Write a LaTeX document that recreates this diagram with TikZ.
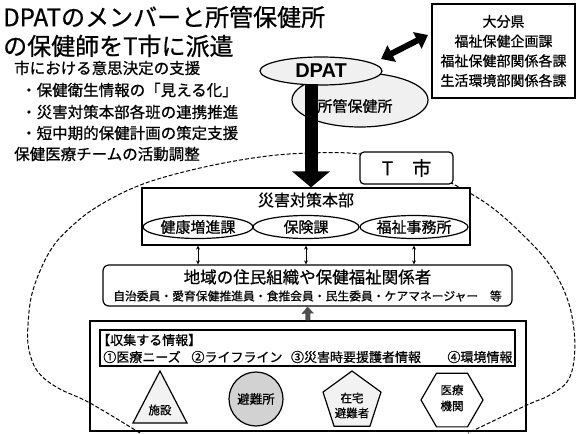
\documentclass[tikz,border=0pt]{standalone}
\usepackage{fontspec}
\setmainfont{Noto Sans CJK JP}[FakeBold=0.7]
\newfontfamily\lsans{Liberation Sans}
\usetikzlibrary{shapes.geometric, arrows.meta}
\newcommand{\myfs}[1]{\fontsize{#1pt}{#1pt}\selectfont}
\begin{document}
\begin{tikzpicture}[x=1pt, y=-1pt,
  box/.style={draw, line width=1.2pt, inner sep=0pt, fill=white},
  ell/.style={ellipse, draw, line width=1.2pt, inner sep=0pt, fill=white},
  txt/.style={inner sep=0pt},
  dashline/.style={draw, line width=1pt, dash pattern=on 4pt off 2pt},
  bigarrow/.style={line width=13pt, -{Triangle[width=37pt,length=16pt]}},
  dblarrow/.style={line width=6pt, {Triangle[width=18pt,length=12pt]}-{Triangle[width=18pt,length=12pt]}},
  smallarrow/.style={line width=0.8pt, {Stealth[length=4pt,width=4pt]}-{Stealth[length=4pt,width=4pt]}},
  upblk/.style={line width=5pt, black!70, -{Triangle[width=12pt,length=7pt]}}
]
\useasboundingbox (0,0) rectangle (577,433);
\fill[white] (0,0) rectangle (577,433);

% title and left texts
\node[txt, anchor=west] (t1) at (3,17) {\myfs{24}DPATのメンバーと所管保健所};
\node[txt, anchor=west] (t2) at (3,46) {\myfs{24}の保健師をT市に派遣};
\node[txt, anchor=west] (s1) at (14,68) {\myfs{15.5}市における意思決定の支援};
\node[txt, anchor=west] (s2) at (21,90) {\myfs{15.5}・保健衛生情報の「見える化」};
\node[txt, anchor=west] (s3) at (21,112) {\myfs{15.5}・災害対策本部各班の連携推進};
\node[txt, anchor=west] (s4) at (21,133) {\myfs{15.5}・短中期的保健計画の策定支援};
\node[txt, anchor=west] (s5) at (14,154) {\myfs{15.5}保健医療チームの活動調整};

% Oita box
\node[box, minimum width=143pt, minimum height=94pt, align=center,
      font={\fontsize{14pt}{19.7pt}\selectfont}] (oita) at (503.5,51)
  {大分県\\福祉保健企画課\\福祉保健部関係各課\\生活環境部関係各課};

% ellipses
\node[ell, minimum width=136pt, minimum height=54pt, fill=gray!12] (hc) at (360,100) {};
\node[txt] (hctext) at (355,106) {\myfs{15}所管保健所};
\node[ell, minimum width=122pt, minimum height=28pt, fill=gray!12] (dpat) at (321,71)
  {\lsans\bfseries\myfs{20}DPAT};

% double arrow DPAT <-> Oita
\coordinate (da1) at (381,59);
\coordinate (da2) at (428,35);
\draw[dblarrow] (da1) -- (da2);

% info box (drawn before dashed curve)
\node[box, line width=1.4pt, minimum width=436pt, minimum height=110pt] (info) at (308,376) {};
\node[box, minimum width=415pt, minimum height=36pt] (inner) at (307.5,348) {};
\node[txt, anchor=west] (ititle) at (97,340) {\myfs{13}【収集する情報】};
\node[txt] (i1) at (142,357) {\myfs{13}①医療ニーズ};
\node[txt] (i2) at (237,357) {\myfs{13}②ライフライン};
\node[txt] (i3) at (356,357) {\myfs{13}③災害時要援護者情報};
\node[txt] (i4) at (480,357) {\myfs{13}④環境情報};

% shapes
\draw[line width=1.2pt, fill=gray!10] (160,371) -- (187,423) -- (133,423) -- cycle;
\node[txt] (shisetsu) at (160,410) {\myfs{11.5}施設};
\node[circle, draw, line width=1.2pt, fill=gray!35, minimum size=54pt, inner sep=0pt] (hinan) at (256,399) {\myfs{12.5}避難所};
\node[regular polygon, regular polygon sides=5, draw, line width=1.2pt, fill=gray!10, minimum size=61pt, inner sep=0pt] (zaitaku) at (352,401.5) {};
\node[txt, align=center, font={\fontsize{11.5pt}{15pt}\selectfont}] (zt) at (352,405.5) {在宅\\避難者};
\node[regular polygon, regular polygon sides=6, draw, line width=1.2pt, fill=white, minimum size=62pt, inner sep=0pt] (iryo) at (452,400) {};
\node[txt, align=center, font={\fontsize{11.5pt}{16pt}\selectfont}] (it) at (452,398) {医療\\機関};

% dashed region
\draw[dashline] plot[smooth, tension=0.6] coordinates {
  (140,433) (90,403) (58,388) (38,372) (29,350) (28,325) (33,290) (50,251)
  (72,226) (100,205) (143,184) (200,168) (260,157) (310,153) (360,154)
  (410,165) (453,184) (490,206) (523,235) (550,265) (567,298) (574,330)
  (574,360) (567,382) (548,396) (527,405) (468,433)};

% T city box
\node[box, rounded corners=4pt, minimum width=93pt, minimum height=32pt] (tcity) at (406.5,168) {\myfs{19}T　市};

% disaster HQ box
\node[box, minimum width=328pt, minimum height=57pt] (saigai) at (306,216.5) {};
\node[txt] (saigaititle) at (306,200) {\myfs{16}災害対策本部};
\node[ell, minimum width=110pt, minimum height=23pt] (e1) at (198,227) {\myfs{15}健康増進課};
\node[ell, minimum width=106pt, minimum height=23pt] (e2) at (306,227) {\myfs{15}保険課};
\node[ell, minimum width=108pt, minimum height=23pt] (e3) at (414,227) {\myfs{15}福祉事務所};

% big arrow
\coordinate (ba) at (311,84);
\draw[bigarrow] (ba) -- (ba |- saigai.north);

% community box
\node[box, rounded corners=6pt, minimum width=409pt, minimum height=41pt] (chiiki) at (307.5,285.5) {};
\node[txt] (c1) at (307.5,277) {\myfs{16.5}地域の住民組織や保健福祉関係者};
\node[txt] (c2) at (307.5,296) {\myfs{11.8}自治委員・愛育保健推進員・食推会員・民生委員・ケアマネージャー　等};

\foreach \e in {e1,e2,e3} \draw[smallarrow] (saigai.south -| \e) -- (chiiki.north -| \e);
\draw[upblk] (info.north) -- (chiiki.south);
\end{tikzpicture}
\end{document}
